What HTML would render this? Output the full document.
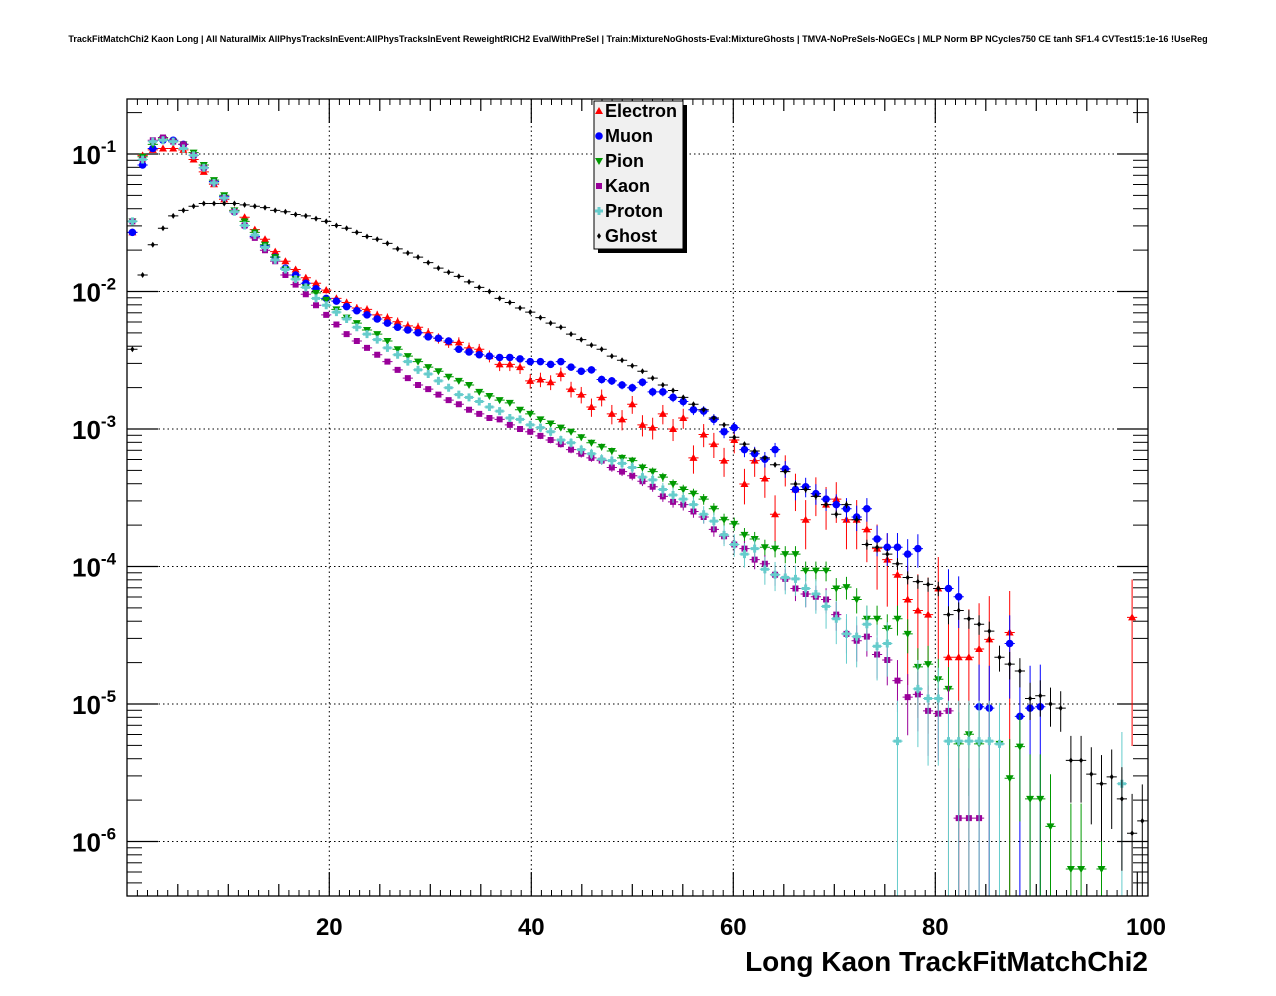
<!DOCTYPE html>
<html><head><meta charset="utf-8"><style>
html,body{margin:0;padding:0;background:#fff;}
svg{display:block;font-family:"Liberation Sans",Arial,sans-serif;}
</style></head><body>
<svg id="chart" width="1276" height="996" viewBox="0 0 1276 996" xmlns="http://www.w3.org/2000/svg">
<rect width="1276" height="996" fill="#fff"/>
<text x="638" y="42" text-anchor="middle" font-size="9.05" font-weight="bold">TrackFitMatchChi2 Kaon Long | All NaturalMix AllPhysTracksInEvent:AllPhysTracksInEvent ReweightRICH2 EvalWithPreSel | Train:MixtureNoGhosts-Eval:MixtureGhosts | TMVA-NoPreSels-NoGECs | MLP Norm BP NCycles750 CE tanh SF1.4 CVTest15:1e-16 !UseReg</text>
<g id="grid"></g>
<g id="axes"></g>
<g id="series"></g>
<rect x="127" y="99" width="1021" height="797" fill="none" stroke="#000" stroke-width="1.3"/>
<g id="legend"></g>
<text x="1148" y="971" text-anchor="end" font-size="28" font-weight="bold">Long Kaon TrackFitMatchChi2</text>
</svg>
<script>
const xTicks = [20, 40, 60, 80, 100];
const yDecades = [-1, -2, -3, -4, -5, -6];
const seriesNames = ["Electron", "Muon", "Pion", "Kaon", "Proton", "Ghost"];
const N = null;
const binWidth = 1.01;
// log10 of normalised bin content, consecutive bins starting at 0
const electronLog10 = [-1.57,-1.01,-0.97,-0.96,-0.96,-0.97,-1.04,-1.13,-1.22,-1.33,-1.41,-1.46,-1.55,-1.62,-1.71,-1.78,-1.84,-1.90,-1.94,-1.99,-2.05,-2.08,-2.12,-2.13,-2.17,-2.19,-2.22,-2.25,-2.26,-2.30,-2.34,-2.37,-2.37,-2.41,-2.42,-2.47,-2.53,-2.53,-2.55,-2.65,-2.64,-2.66,-2.60,-2.71,-2.75,-2.84,-2.77,-2.89,-2.93,-2.82,-2.97,-2.99,-2.89,-3.00,-2.92,-3.21,-3.04,-3.11,-3.23,-3.08,-3.40,-3.23,-3.36,-3.62,-3.29,-3.44,-3.66,-3.47,-3.55,-3.51,-3.66,-3.66,-3.73,-3.87,-3.95,-4.06,-4.24,-4.32,-4.35,-4.16,-4.66,-4.66,-4.66,-4.60,-4.53,N,-4.48,N,N,N,N,N,N,N,N,N,N,N,-4.37];
const muonLog10 = [-1.57,-1.08,-0.96,-0.90,-0.90,-0.93,-1.01,-1.10,-1.20,-1.31,-1.42,-1.52,-1.60,-1.67,-1.75,-1.83,-1.88,-1.94,-1.98,-2.05,-2.07,-2.11,-2.14,-2.17,-2.20,-2.23,-2.26,-2.28,-2.30,-2.33,-2.34,-2.36,-2.42,-2.44,-2.46,-2.47,-2.48,-2.48,-2.49,-2.51,-2.51,-2.53,-2.51,-2.55,-2.58,-2.57,-2.64,-2.65,-2.68,-2.70,-2.66,-2.73,-2.73,-2.77,-2.80,-2.86,-2.87,-2.93,-3.02,-2.99,-3.15,-3.18,-3.22,-3.15,-3.29,-3.44,-3.42,-3.47,-3.51,-3.55,-3.58,-3.64,-3.58,-3.80,-3.86,-3.86,-3.91,-3.87,N,N,-4.16,-4.22,N,-5.02,-5.03,N,-4.56,-5.09,-5.03,-5.02,N,N,N,N,N,N,N,N,N,N];
const pionLog10 = [-1.49,-1.02,-0.93,-0.89,-0.91,-0.93,-0.99,-1.08,-1.19,-1.30,-1.41,-1.49,-1.57,-1.66,-1.75,-1.84,-1.91,-1.97,-2.01,-2.06,-2.13,-2.19,-2.23,-2.28,-2.31,-2.36,-2.42,-2.47,-2.51,-2.55,-2.58,-2.62,-2.65,-2.68,-2.73,-2.76,-2.79,-2.81,-2.86,-2.89,-2.93,-2.96,-2.99,-3.02,-3.06,-3.10,-3.13,-3.16,-3.21,-3.23,-3.28,-3.31,-3.35,-3.40,-3.44,-3.47,-3.51,-3.58,-3.66,-3.69,-3.77,-3.80,-3.86,-3.87,-3.91,-3.91,-4.03,-4.03,-4.03,-4.16,-4.15,-4.24,-4.38,-4.38,-4.45,-4.38,-4.49,-4.73,-4.71,-4.82,-4.89,-5.29,-5.22,-5.29,N,-5.29,-5.54,-5.31,-5.69,-5.69,-5.89,N,-6.20,-6.20,N,-6.20,N,N,N,N];
const kaonLog10 = [-1.49,-1.04,-0.90,-0.88,-0.91,-0.93,-1.01,-1.10,-1.21,-1.32,-1.42,-1.52,-1.61,-1.70,-1.78,-1.88,-1.95,-2.02,-2.10,-2.17,-2.24,-2.31,-2.36,-2.41,-2.46,-2.51,-2.57,-2.63,-2.68,-2.71,-2.75,-2.79,-2.82,-2.86,-2.89,-2.92,-2.93,-2.97,-3.00,-3.02,-3.05,-3.08,-3.11,-3.15,-3.18,-3.21,-3.23,-3.28,-3.31,-3.34,-3.38,-3.42,-3.49,-3.53,-3.55,-3.60,-3.64,-3.73,-3.78,-3.84,-3.87,-3.95,-3.98,-4.06,-4.09,-4.16,-4.20,-4.22,-4.24,-4.35,-4.49,-4.54,-4.51,-4.64,-4.68,-4.83,-4.95,-4.93,-5.05,-5.07,-5.05,-5.83,-5.83,-5.83,N,N,N,N,N,N,N,N,N,N,N,N,N,N,N,N];
const protonLog10 = [-1.49,-1.04,-0.91,-0.90,-0.91,-0.96,-1.01,-1.10,-1.21,-1.32,-1.42,-1.52,-1.59,-1.68,-1.77,-1.84,-1.91,-1.97,-2.05,-2.10,-2.15,-2.20,-2.26,-2.31,-2.35,-2.41,-2.46,-2.51,-2.57,-2.60,-2.65,-2.70,-2.75,-2.77,-2.80,-2.84,-2.87,-2.92,-2.93,-2.97,-2.99,-3.02,-3.08,-3.10,-3.15,-3.18,-3.22,-3.23,-3.25,-3.28,-3.35,-3.37,-3.44,-3.48,-3.51,-3.55,-3.62,-3.67,-3.77,-3.84,-3.91,-3.87,-4.02,-4.06,-4.08,-4.09,-4.16,-4.20,-4.29,-4.38,-4.49,-4.51,-4.42,-4.58,-4.56,-5.27,N,-4.89,-4.96,-4.96,-5.27,-5.27,-5.27,-5.27,-5.27,-5.29,N,N,N,N,N,N,N,N,N,N,N,-5.58,N,N];
const ghostLog10 = [-2.42,-1.88,-1.66,-1.54,-1.45,-1.41,-1.38,-1.36,-1.36,-1.36,-1.36,-1.37,-1.38,-1.39,-1.41,-1.42,-1.44,-1.45,-1.47,-1.49,-1.52,-1.54,-1.57,-1.60,-1.62,-1.65,-1.69,-1.72,-1.75,-1.79,-1.83,-1.86,-1.89,-1.93,-1.97,-2.00,-2.05,-2.08,-2.12,-2.15,-2.19,-2.23,-2.26,-2.31,-2.35,-2.39,-2.42,-2.47,-2.50,-2.54,-2.58,-2.63,-2.68,-2.72,-2.77,-2.82,-2.86,-2.92,-2.97,-3.06,-3.11,-3.16,-3.21,-3.26,-3.31,-3.40,-3.44,-3.49,-3.55,-3.62,-3.55,-3.66,-3.84,-3.86,-3.91,-3.98,-4.08,-4.11,-4.13,-4.16,-4.35,-4.32,-4.38,-4.42,-4.47,-4.66,-4.71,-4.76,-4.96,-4.94,-5.00,-5.03,-5.41,-5.41,-5.51,-5.58,-5.53,-5.69,-5.94,-5.85];
// effective statistics per sample (sets error-bar size)
const sampleEntries = [3e4, 1e5, 4e5, 4e5, 2e5, 1e6];

const NS = "http://www.w3.org/2000/svg";
const X0 = 127.3, XS = 10.1, YTOP = 99, YBOT = 896, YDEC = 137.5, YM1 = 154;
const xPix = v => X0 + v * XS;
const yPix = l => YM1 + (-1 - l) * YDEC;
function mk(tag, parent, attrs) { const e = document.createElementNS(NS, tag); for (const k in attrs) e.setAttribute(k, attrs[k]); parent.appendChild(e); return e; }

const grid = document.getElementById('grid'), axes = document.getElementById('axes');
xTicks.forEach(t => {
  const x = xPix(t);
  if (t < 100) { const g = mk('line', grid, {x1:x, x2:x, y1:YTOP, y2:YBOT, stroke:'#000', 'stroke-width':1, 'stroke-dasharray':'1.5,3'});   }
  const lb = mk('text', axes, {x:(t === 100 ? 1146 : x), y:935, 'text-anchor':'middle', 'font-size':24, 'font-weight':'bold'});
  lb.textContent = t;
  
  
});
for (let v = 5; v <= 100; v += 5) {
  const x = xPix(v), len = (v % 20 === 0) ? 24 : 12;
  mk('line', axes, {x1:x, x2:x, y1:YBOT, y2:YBOT - len, stroke:'#000', 'stroke-width':1.2});
  mk('line', axes, {x1:x, x2:x, y1:YTOP, y2:YTOP + len, stroke:'#000', 'stroke-width':1.2});
}
for (let v = 1; v <= 100; v += 1) {
  if (v % 5 === 0) continue;
  const x = xPix(v);
  mk('line', axes, {x1:x, x2:x, y1:YBOT, y2:YBOT - 6, stroke:'#000', 'stroke-width':1});
  mk('line', axes, {x1:x, x2:x, y1:YTOP, y2:YTOP + 6, stroke:'#000', 'stroke-width':1});
}
yDecades.forEach(d => {
  const y = yPix(d);
  const g = mk('line', grid, {x1:127, x2:1148, y1:y, y2:y, stroke:'#000', 'stroke-width':1, 'stroke-dasharray':'1.5,3'});
  
  
  mk('line', axes, {x1:127, x2:158, y1:y, y2:y, stroke:'#000', 'stroke-width':1.2});
  mk('line', axes, {x1:1148, x2:1117, y1:y, y2:y, stroke:'#000', 'stroke-width':1.2});
  const t = mk('text', axes, {x:72, y:y + 10, 'font-size':26, 'font-weight':'bold'});
  
  
  const a = mk('tspan', t, {}); a.textContent = '10';
  const b = mk('tspan', t, {dy:-12, 'font-size':17}); b.textContent = String(d);
});
for (let d = 0; d >= -7; d--) {
  for (let m = 2; m <= 9; m++) {
    const y = yPix(d - 1 + Math.log10(m));
    if (y < YTOP || y > YBOT) continue;
    mk('line', axes, {x1:127, x2:142, y1:y, y2:y, stroke:'#000', 'stroke-width':1});
    mk('line', axes, {x1:1148, x2:1133, y1:y, y2:y, stroke:'#000', 'stroke-width':1});
  }
}

const colors = ['#ff0000', '#0000ff', '#009900', '#990099', '#66cccc', '#000000'];
const allData = [electronLog10, muonLog10, pionLog10, kaonLog10, protonLog10, ghostLog10];
function marker(parent, kind, x, y, col) {
  let e;
  if (kind === 0) e = mk('polygon', parent, {points:`${x},${y-4} ${x-4},${y+3} ${x+4},${y+3}`, fill:col});
  else if (kind === 1) e = mk('circle', parent, {cx:x, cy:y, r:3.8, fill:col});
  else if (kind === 2) e = mk('polygon', parent, {points:`${x},${y+4} ${x-4},${y-3} ${x+4},${y-3}`, fill:col});
  else if (kind === 3) e = mk('rect', parent, {x:x-3, y:y-3, width:6, height:6, fill:col});
  else if (kind === 4) e = mk('path', parent, {d:`M${x-1.5},${y-4}h3v2.5h2.5v3h-2.5v2.5h-3v-2.5h-2.5v-3h2.5z`, fill:col});
  else e = mk('polygon', parent, {points:`${x},${y-3} ${x-2},${y} ${x},${y+3} ${x+2},${y}`, fill:col});
  return e;
}
const sg = document.getElementById('series');
allData.forEach((arr, s) => {
  const g = mk('g', sg, {});
  
  
  const col = colors[s];
  arr.forEach((l, i) => {
    if (l === null) return;
    const v = Math.pow(10, l), x = xPix((i + 0.5) * binWidth), y = yPix(l);
    if (y > YBOT || y < YTOP) return;
    const rel = 1 / Math.sqrt(v * sampleEntries[s]);
    const yHi = Math.max(YTOP, yPix(Math.log10(v * (1 + rel))));
    const yLo = (rel >= 1) ? YBOT : Math.min(YBOT, yPix(Math.log10(v * (1 - rel))));
    mk('line', g, {x1:x, x2:x, y1:yHi, y2:yLo, stroke:col, 'stroke-width':1});
    mk('line', g, {x1:xPix(i * binWidth), x2:xPix((i + 1) * binWidth), y1:y, y2:y, stroke:col, 'stroke-width':1});
    const m = marker(g, s, x, y, col);
    
    
  });
});

const lg = document.getElementById('legend');
mk('rect', lg, {x:598, y:105, width:89, height:148, fill:'#000'});
mk('rect', lg, {x:594, y:101, width:89, height:148, fill:'#f0f0f0', stroke:'#000', 'stroke-width':1});
seriesNames.forEach((n, k) => {
  const y = 111 + k * 25;
  const m = marker(lg, k, 599, y, colors[k]);
  
  
  const t = mk('text', lg, {x:605, y:y + 6, 'font-size':18, 'font-weight':'bold'});
  t.textContent = n;
  
  
});
</script>
</body></html>
